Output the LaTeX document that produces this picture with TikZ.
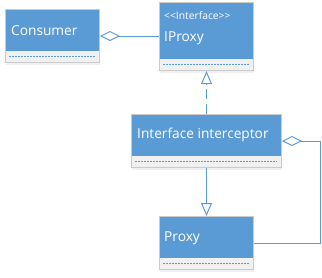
\documentclass[tikz,border=0pt]{standalone}
\usepackage{fontspec}
\setmainfont{Open Sans}
\usetikzlibrary{arrows.meta,shadows}
\definecolor{umlblue}{HTML}{5B9BD5}
\definecolor{opsgray}{HTML}{F0F0F0}
\definecolor{edgegray}{HTML}{CACACA}
\begin{document}
\begin{tikzpicture}[x=1pt,y=-1pt,
  classbox/.style={draw=edgegray, line width=1pt, fill=opsgray, inner sep=0pt,
    anchor=north west, drop shadow={opacity=0.12, shadow xshift=0pt, shadow yshift=-2pt}},
  namebox/.style={fill=umlblue, inner sep=0pt, anchor=north west},
  classname/.style={text=white, font=\fontsize{13.7}{15}\selectfont, anchor=west, inner sep=0pt},
  stereo/.style={text=white, font=\fontsize{10.3}{12}\selectfont, anchor=west, inner sep=0pt},
  opsline/.style={draw=umlblue, line width=0.7pt, dash pattern=on 2pt off 1pt},
  conn/.style={draw=umlblue, line width=1pt},
  aggr/.style={conn, {Diamond[length=20pt, width=10pt, fill=white, line width=1pt]}-},
  inherit/.style={conn, -{Triangle[length=13pt, width=11pt, fill=white, line width=1pt]}},
  realize/.style={inherit, dash pattern=on 10pt off 5pt},
]
\useasboundingbox (0,0) rectangle (322,277);

% Consumer
\node[classbox, minimum width=94pt, minimum height=53pt] (consumer) at (5,9) {};
\node[namebox, minimum width=93pt, minimum height=41.5pt] (consumer-head) at (5.5,9.5) {};
\node[classname] (consumer-name) at (11,31) {Consumer};
\draw[opsline] (9,56.5) -- (95,56.5);

% IProxy
\node[classbox, minimum width=94pt, minimum height=68pt] (iproxy) at (159,2) {};
\node[namebox, minimum width=93pt, minimum height=56.5pt] (iproxy-head) at (159.5,2.5) {};
\node[stereo] (iproxy-stereo) at (164,15.5) {{<}{<}Interface{>}{>}};
\node[classname] (iproxy-name) at (164,38) {IProxy};
\draw[opsline] (163,64) -- (249,64);

% Interface interceptor
\node[classbox, minimum width=150pt, minimum height=53pt] (interceptor) at (131,114) {};
\node[namebox, minimum width=149pt, minimum height=41.5pt] (interceptor-head) at (131.5,114.5) {};
\node[classname] (interceptor-name) at (137,135) {Interface interceptor};
\draw[opsline] (135,161.5) -- (277,161.5);

% Proxy
\node[classbox, minimum width=94pt, minimum height=53pt] (proxy) at (159,216) {};
\node[namebox, minimum width=93pt, minimum height=41.5pt] (proxy-head) at (159.5,216.5) {};
\node[classname] (proxy-name) at (164,238) {Proxy};
\draw[opsline] (163,263.5) -- (249,263.5);

% Relations
\draw[aggr] (consumer.east) -- (consumer.east -| iproxy.west);
\draw[realize] (interceptor.north) -- (iproxy.south);
\draw[inherit] (interceptor.south) -- (proxy.north);
\coordinate (loop) at (320,0);
\draw[aggr] (interceptor.east) -- (interceptor.east -| loop) |- (proxy.east);
\end{tikzpicture}
\end{document}
